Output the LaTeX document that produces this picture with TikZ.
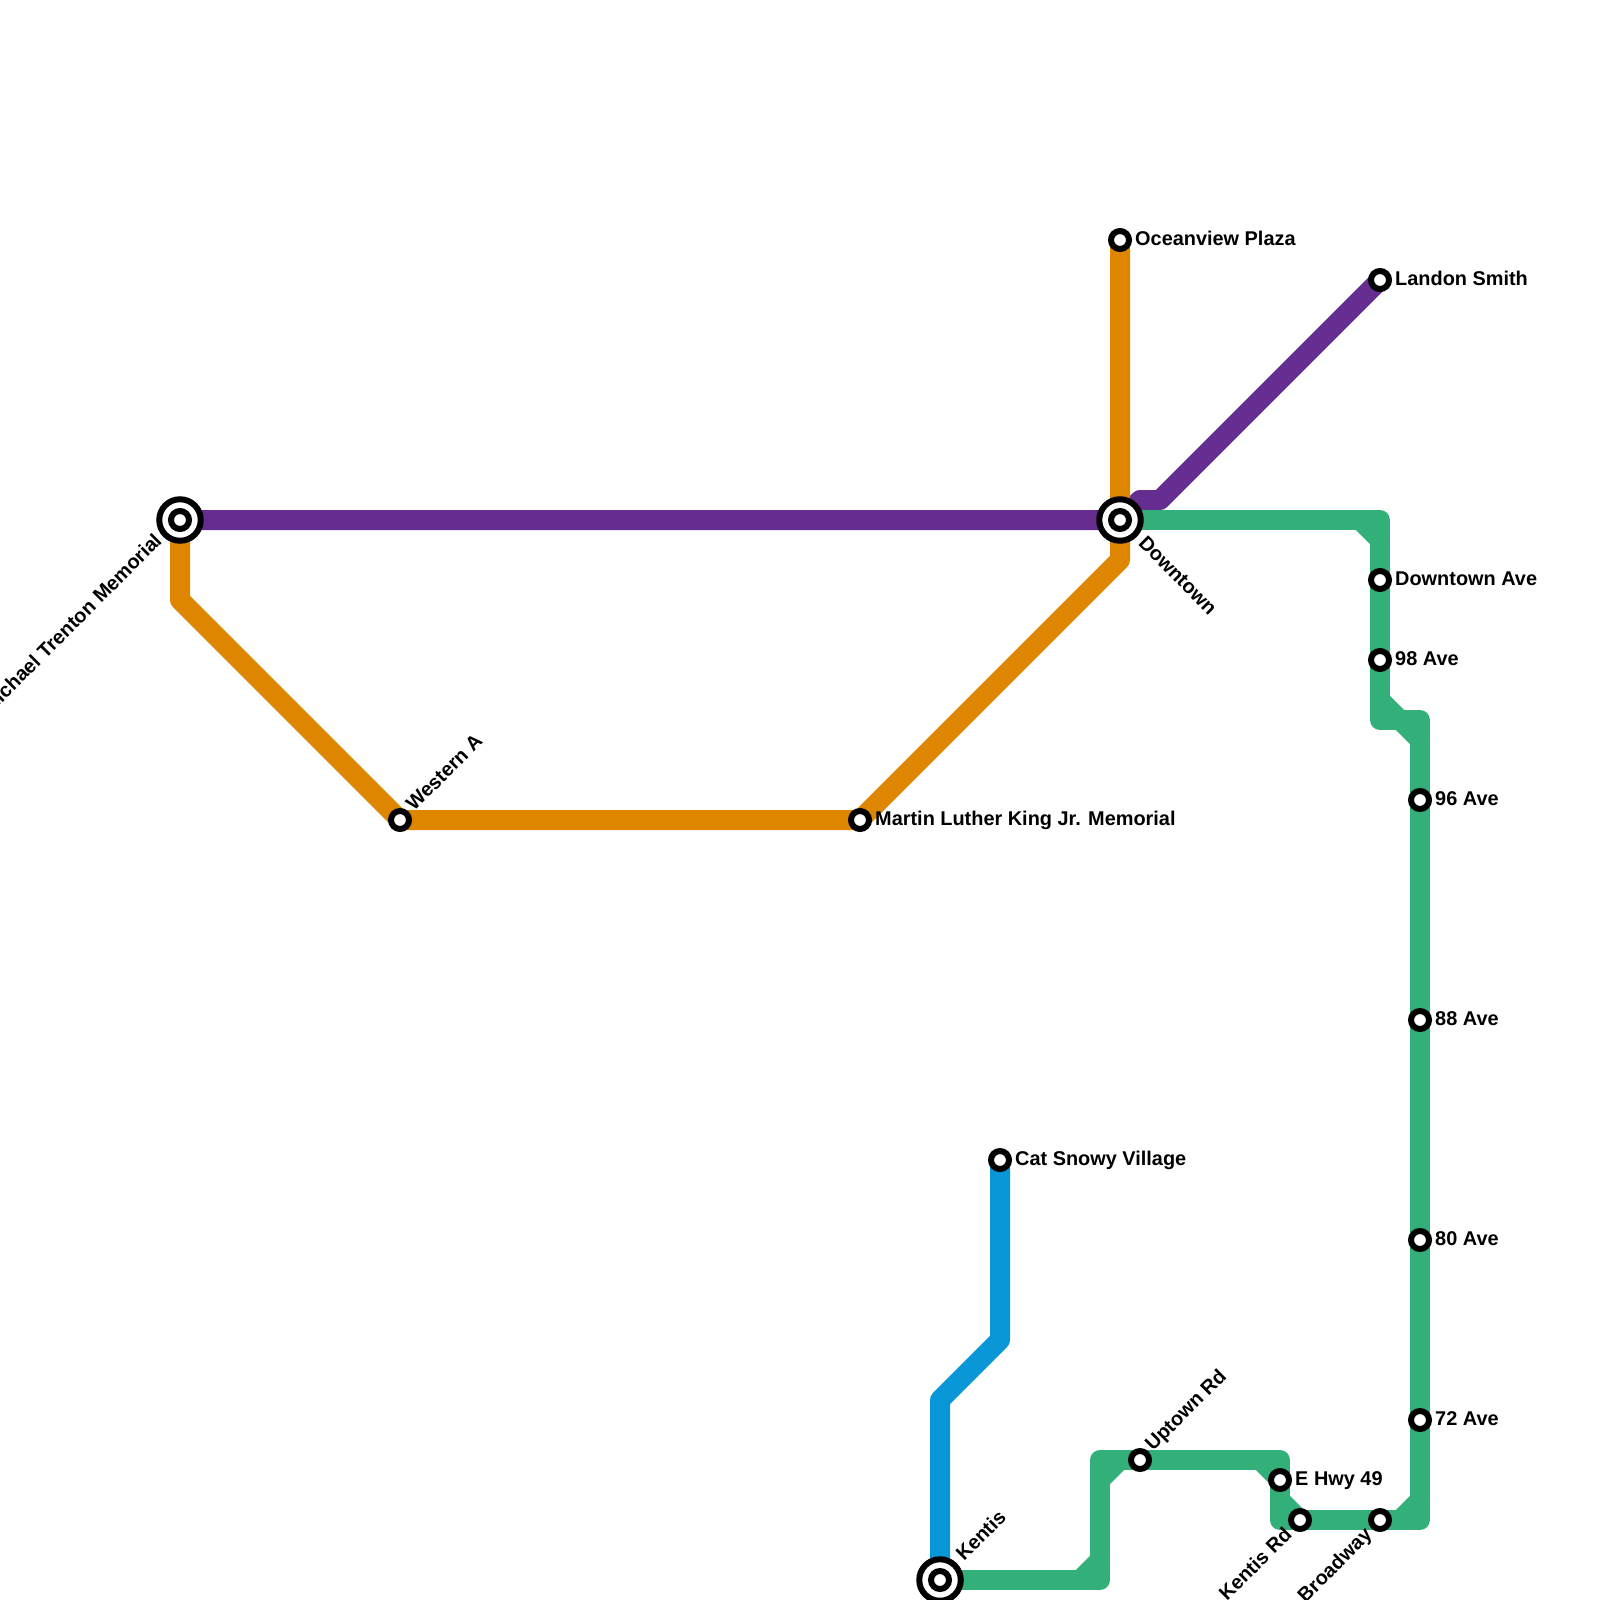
\documentclass[tikz,border=0pt]{standalone}
\usepackage{fontspec}
\setmainfont{Liberation Sans}[BoldFont={Liberation Sans Bold}]
\definecolor{lgreen}{HTML}{33B07A}
\definecolor{lorange}{HTML}{DF8600}
\definecolor{lpurple}{HTML}{662D91}
\definecolor{lblue}{HTML}{0896D7}
\tikzset{
  metro/.style={line width=20pt,line join=round,line cap=butt},
  stn/.style={circle,draw=black,fill=white,line width=6pt,minimum size=18pt,inner sep=0pt,outer sep=0pt},
  hub/.style={circle,draw=black,fill=white,line width=6pt,minimum size=41.5pt,inner sep=0pt,outer sep=0pt},
  hubin/.style={circle,draw=black,fill=white,line width=6pt,minimum size=18pt,inner sep=0pt,outer sep=0pt},
  lab/.style={font=\fontsize{19.9pt}{22pt}\selectfont\bfseries,inner sep=0pt,text=black},
}
\begin{document}
\begin{tikzpicture}[x=1pt,y=-1pt]
\useasboundingbox (0,0) rectangle (1600,1600);
% station positions
\coordinate (mtm) at (180,520);
\coordinate (dt) at (1120,520);
\coordinate (ken) at (940,1580);
\coordinate (wa) at (400,820);
\coordinate (mlk) at (860,820);
\coordinate (ov) at (1120,240);
\coordinate (ls) at (1380,280);
\coordinate (dta) at (1380,580);
\coordinate (a98) at (1380,660);
\coordinate (a96) at (1420,800);
\coordinate (a88) at (1420,1020);
\coordinate (a80) at (1420,1240);
\coordinate (a72) at (1420,1420);
\coordinate (bw) at (1380,1520);
\coordinate (kr) at (1300,1520);
\coordinate (eh) at (1280,1480);
\coordinate (ut) at (1140,1460);
\coordinate (csv) at (1000,1160);
% purple line
\draw[metro,lpurple] (mtm) -- (dt) -- (1140,500) -- (1160,500) -- (ls);
% orange line
\draw[metro,lorange] (mtm) -- (180,600) -- (wa) -- (mlk) -- (1120,560) -- (ov);
% blue line
\draw[metro,lblue] (ken) -- (940,1400) -- (1000,1340) -- (csv);
% green line
\draw[metro,lgreen] (ken) -- (1100,1580) -- (1100,1460) -- (1280,1460) -- (1280,1520) -- (1420,1520) -- (1420,720) -- (1380,720) -- (1380,520) -- (dt);
\foreach \a/\b/\c/\d in {1080/1580/1100/1560,1100/1480/1120/1460,1260/1460/1280/1480,1280/1500/1300/1520,1400/1520/1420/1500,1360/520/1380/540,1380/700/1400/720,1400/720/1420/740}
  \draw[metro,lgreen,line cap=round] (\a,\b) -- (\c,\d);
% stations
\node[stn] (nwa) at (wa) {};
\node[stn] (nmlk) at (mlk) {};
\node[stn] (nov) at (ov) {};
\node[stn] (nls) at (ls) {};
\node[stn] (ndta) at (dta) {};
\node[stn] (na98) at (a98) {};
\node[stn] (na96) at (a96) {};
\node[stn] (na88) at (a88) {};
\node[stn] (na80) at (a80) {};
\node[stn] (na72) at (a72) {};
\node[stn] (nbw) at (bw) {};
\node[stn] (nkr) at (kr) {};
\node[stn] (neh) at (eh) {};
\node[stn] (nut) at (ut) {};
\node[stn] (ncsv) at (csv) {};
\foreach \n in {mtm,dt,ken}{
  \node[hub] (h\n) at (\n) {};
  \node[hubin] (i\n) at (\n) {};
}
% labels
\node[lab,anchor=base west] (lov) at (1135,245) {Oceanview Plaza};
\node[lab,anchor=base west] (lls) at (1395,285) {Landon Smith};
\node[lab,anchor=base west] (ldta) at (1395,585) {Downtown Ave};
\node[lab,anchor=base west] (la98) at (1395,665) {98 Ave};
\node[lab,anchor=base west] (la96) at (1435,805) {96 Ave};
\node[lab,anchor=base west] (la88) at (1435,1025) {88 Ave};
\node[lab,anchor=base west] (la80) at (1435,1245) {80 Ave};
\node[lab,anchor=base west] (la72) at (1435,1425) {72 Ave};
\node[lab,anchor=base west] (leh) at (1295,1485) {E Hwy 49};
\node[lab,anchor=base west] (lcsv) at (1015,1165) {Cat Snowy Village};
\node[lab,anchor=base west] (lmlk) at (875,825) {Martin Luther King Jr. Memorial};
\node[lab,anchor=base west,rotate=45] (lwa) at (414,812) {Western A};
\node[lab,anchor=base west,rotate=45] (lut) at (1153,1452) {Uptown Rd};
\node[lab,anchor=base west,rotate=45] (lken) at (964,1562) {Kentis};
\node[lab,anchor=base west,rotate=-45] (ldt) at (1137.5,544.5) {Downtown};
\node[lab,anchor=base east,rotate=45] (lmtm) at (163,542) {Michael Trenton Memorial};
\node[lab,anchor=base east,rotate=45] (lkr) at (1293,1536) {Kentis Rd};
\node[lab,anchor=base east,rotate=45] (lbw) at (1373,1536) {Broadway};
\end{tikzpicture}
\end{document}
